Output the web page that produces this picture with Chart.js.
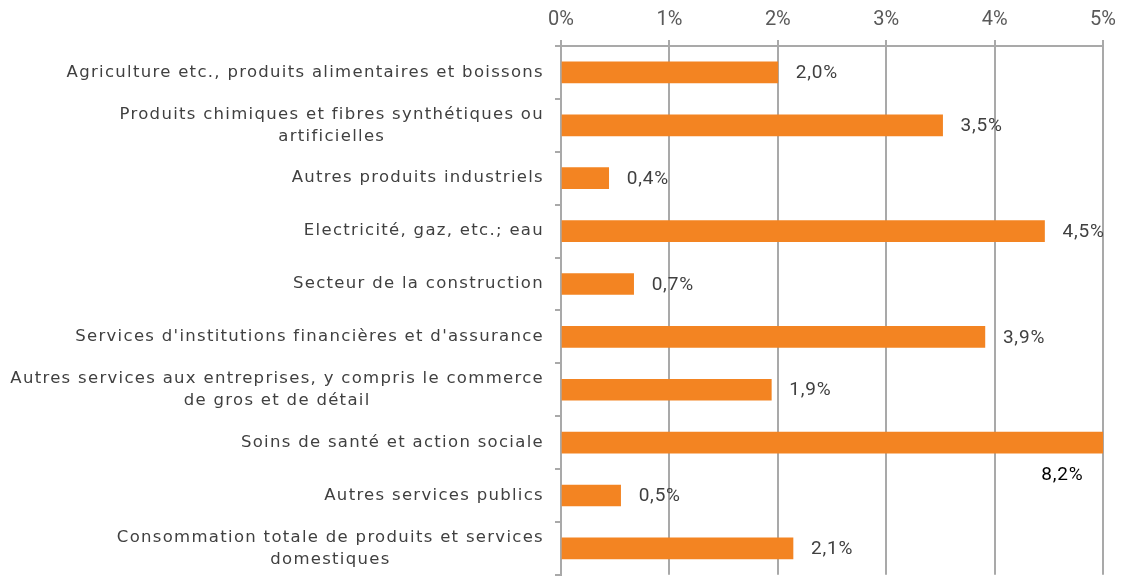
<!DOCTYPE html>
<html>
<head>
<meta charset="utf-8">
<script src="https://cdn.jsdelivr.net/npm/chart.js@4"></script>
<style>
  html, body { margin: 0; padding: 0; background: #fff; }
  #wrap { width: 1124px; height: 585px; }
</style>
</head>
<body>
<div id="wrap"><canvas id="myChart"></canvas></div>
<script>
// Categories (multi-line ones as arrays)
var secteurs = [
  "Agriculture etc., produits alimentaires et boissons",
  ["Produits chimiques et fibres synthétiques ou", "artificielles"],
  "Autres produits industriels",
  "Electricité, gaz, etc.; eau",
  "Secteur de la construction",
  "Services d'institutions financières et d'assurance",
  ["Autres services aux entreprises, y compris le commerce", "de gros et de détail"],
  "Soins de santé et action sociale",
  "Autres services publics",
  ["Consommation totale de produits et services", "domestiques"]
];
// bar lengths (in %)
var valeurs = [2.0, 3.52, 0.44, 4.46, 0.67, 3.91, 1.94, 8.2, 0.55, 2.14];
// printed labels
var etiquettes = ["2,0%", "3,5%", "0,4%", "4,5%", "0,7%", "3,9%", "1,9%", "8,2%", "0,5%", "2,1%"];
var xTicks = [0, 1, 2, 3, 4, 5];

var gris = "#A9A9A9";
var catFont = "16.5px 'DejaVu Sans'";

// draws the category labels: block right aligned, lines centred in the block
var catLabels = {
  id: "catLabels",
  afterDraw: function(chart) {
    var ctx = chart.ctx, y = chart.scales.y;
    ctx.save();
    ctx.font = catFont;
    ctx.letterSpacing = "1.3px";
    ctx.fillStyle = "#404040";
    ctx.textAlign = "center";
    ctx.textBaseline = "middle";
    var right = chart.chartArea.left - 17;
    secteurs.forEach(function(lab, i) {
      var lines = Array.isArray(lab) ? lab : [lab];
      var w = 0;
      lines.forEach(function(l) { w = Math.max(w, ctx.measureText(l).width); });
      var cy = y.getPixelForValue(i);
      var lh = 22;
      var y0 = cy - (lines.length - 1) * lh / 2;
      lines.forEach(function(l, k) {
        ctx.fillText(l, right - w / 2, y0 + k * lh);
      });
    });
    ctx.restore();
  }
};

// value labels next to the bars
var valLabels = {
  id: "valLabels",
  afterDraw: function(chart) {
    var ctx = chart.ctx, x = chart.scales.x, y = chart.scales.y;
    ctx.save();
    ctx.font = "19px Roboto";
    ctx.letterSpacing = "0.8px";
    ctx.textBaseline = "middle";
    valeurs.forEach(function(v, i) {
      var cy = y.getPixelForValue(i);
      if (v > x.max) {
        ctx.fillStyle = "#000";
        ctx.textAlign = "right";
        ctx.fillText(etiquettes[i], x.getPixelForValue(4.82), cy + 33);
      } else {
        ctx.fillStyle = "#404040";
        ctx.textAlign = "left";
        ctx.fillText(etiquettes[i], x.getPixelForValue(v) + 18, cy + 1);
      }
    });
    ctx.restore();
  }
};

var ctx = document.getElementById("myChart");
var myChart = new Chart(ctx, {
  type: "bar",
  data: {
    labels: secteurs,
    datasets: [{
      data: valeurs,
      backgroundColor: "#F38422",
      barThickness: 21
    }]
  },
  options: {
    indexAxis: "y",
    responsive: true,
    maintainAspectRatio: false,
    animation: false,
    layout: { padding: { top: 0, right: 18, bottom: 2, left: 0 } },
    plugins: { legend: { display: false }, tooltip: { enabled: false } },
    scales: {
      x: {
        position: "top",
        min: 0,
        max: 5,
        afterBuildTicks: function(s) { s.ticks = xTicks.map(function(v) { return { value: v }; }); },
        afterFit: function(s) { s.height = 46; },
        ticks: {
          callback: function(v) { return v + "%"; },
          color: "#595959",
          font: { family: "Roboto", size: 20 },
          padding: 8,
          maxRotation: 0
        },
        grid: { color: gris, lineWidth: 2, tickLength: 6 },
        border: { color: gris, width: 2 }
      },
      y: {
        afterFit: function(s) { s.width = 561; },
        ticks: { color: "rgba(0,0,0,0)" },
        grid: { drawOnChartArea: false, color: gris, lineWidth: 2, tickLength: 6, offset: true },
        border: { color: gris, width: 2 }
      }
    }
  },
  plugins: [catLabels, valLabels]
});
</script>
</body>
</html>
